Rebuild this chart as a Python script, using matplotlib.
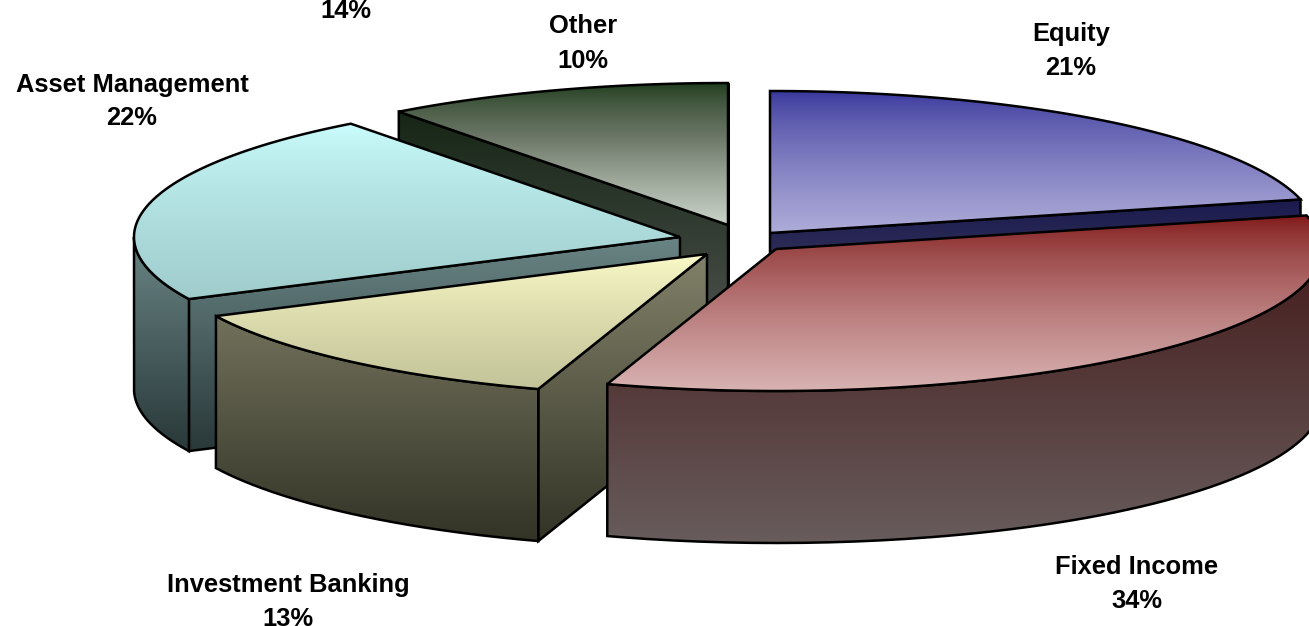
import numpy as np
import matplotlib
matplotlib.use('Agg')
import matplotlib.pyplot as plt
from matplotlib.colors import LinearSegmentedColormap
from matplotlib.patches import PathPatch
from matplotlib.path import Path

categories = ['Equity', 'Fixed Income', 'Investment Banking', 'Asset Management', 'Other']
shares = [21.2, 33.8, 12.8, 21.9, 10.3]
stray_label = '14%'

# pixel layout of the exploded pie
apex = {
    'Equity': (770, 233),
    'Fixed Income': (776, 249),
    'Investment Banking': (707, 254),
    'Asset Management': (680, 237),
    'Other': (728, 225),
}
# x centre, baseline of name, baseline of percent
label_pos = {
    'Equity': (1071, 41, 75),
    'Fixed Income': (1137, 574, 608),
    'Investment Banking': (288, 592, 625.5),
    'Asset Management': (132, 92, 125),
    'Other': (583, 33, 67.5),
}
top_colors = {
    'Equity': ('#35349a', '#aeacd8'),
    'Fixed Income': ('#7e1414', '#d8b2b2'),
    'Investment Banking': ('#ffffcc', '#c4c49a'),
    'Asset Management': ('#ccffff', '#a0cccc'),
    'Other': ('#1c3a1a', '#6a7565', '#c9d3c8'),
}
wall_colors = {
    'Equity': ('#1a1a4e', '#5c5a70'),
    'Fixed Income': ('#451c1c', '#685c5c'),
    'Investment Banking': ('#82826a', '#333326'),
    'Asset Management': ('#6a8585', '#293839'),
    'Other': ('#0f200f', '#575a57'),
}
draw_order = ['Equity', 'Other', 'Asset Management', 'Investment Banking', 'Fixed Income']

A = 546
B = 142
DEPTH = 152
LW = 1.8

plt.rcParams['font.family'] = ['Liberation Sans', 'DejaVu Sans']

fig = plt.figure(figsize=(13.09, 6.26), dpi=100)
ax = fig.add_axes([0, 0, 1, 1])
ax.set_xlim(0, 1309)
ax.set_ylim(626, 0)
ax.axis('off')


def rim(center, t1, t2, n=120):
    t = np.radians(np.linspace(t1, t2, n))
    return np.column_stack((center[0] + A * np.sin(t), center[1] - B * np.cos(t)))


def shift(pts):
    return pts + np.array([0, DEPTH])


def fill_gradient(polys, colors, z, gamma=1.0):
    # one vertical gradient shared by all the polygons of a face group
    all_pts = np.vstack(polys)
    cmap = LinearSegmentedColormap.from_list('g', colors)
    grad = (np.linspace(0, 1, 256) ** gamma).reshape(-1, 1)
    y0, y1 = all_pts[:, 1].min(), all_pts[:, 1].max()
    x0, x1 = all_pts[:, 0].min(), all_pts[:, 0].max()
    for i, pts in enumerate(polys):
        outline = PathPatch(Path(np.vstack((pts, pts[:1])), closed=False), facecolor='none',
                            edgecolor='black', lw=LW, zorder=z + i * 0.01 + 0.005,
                            joinstyle='miter')
        ax.add_patch(outline)
        im = ax.imshow(grad, extent=(x0, x1, y1, y0), origin='upper', cmap=cmap,
                       aspect='auto', zorder=z + i * 0.01, interpolation='bilinear')
        clip = PathPatch(Path(np.vstack((pts, pts[:1]))), transform=ax.transData,
                         facecolor='none', edgecolor='none')
        ax.add_patch(clip)
        im.set_clip_path(clip)


edges = np.cumsum([0] + shares) / sum(shares) * 360
start = dict(zip(categories, edges[:-1]))
stop = dict(zip(categories, edges[1:]))

for z, name in enumerate(draw_order):
    c = np.array(apex[name], dtype=float)
    t1, t2 = start[name], stop[name]
    walls = []

    # cut faces turned towards the viewer
    if np.sin(np.radians(t1)) < -1e-6:
        edge = np.vstack((c, rim(c, t1, t1, 1)))
        walls.append(np.vstack((edge, shift(edge)[::-1])))
    if np.sin(np.radians(t2)) > -1e-6:
        edge = np.vstack((c, rim(c, t2, t2, 1)))
        walls.append(np.vstack((edge, shift(edge)[::-1])))

    # outer wall, only the front half of the rim shows
    lo, hi = max(t1, 90), min(t2, 270)
    if hi > lo:
        arc = rim(c, lo, hi)
        walls.append(np.vstack((arc, shift(arc)[::-1])))

    if walls:
        fill_gradient(walls, wall_colors[name], 10 * (z + 1))

    top = np.vstack((c, rim(c, t1, t2)))
    fill_gradient([top], top_colors[name], 10 * (z + 1) + 5, gamma=0.7)

text_style = dict(ha='center', va='baseline', fontsize=18.4, fontweight='bold',
                  color='black', zorder=200)
for name, share in zip(categories, shares):
    x, y_name, y_pct = label_pos[name]
    ax.text(x, y_name, name, **text_style)
    ax.text(x, y_pct, f'{round(share)}%', **text_style)
ax.text(346, 17.5, stray_label, **text_style)

ax.set_xlim(0, 1309)
ax.set_ylim(626, 0)
fig.savefig('out.png', dpi=100, facecolor='white')
